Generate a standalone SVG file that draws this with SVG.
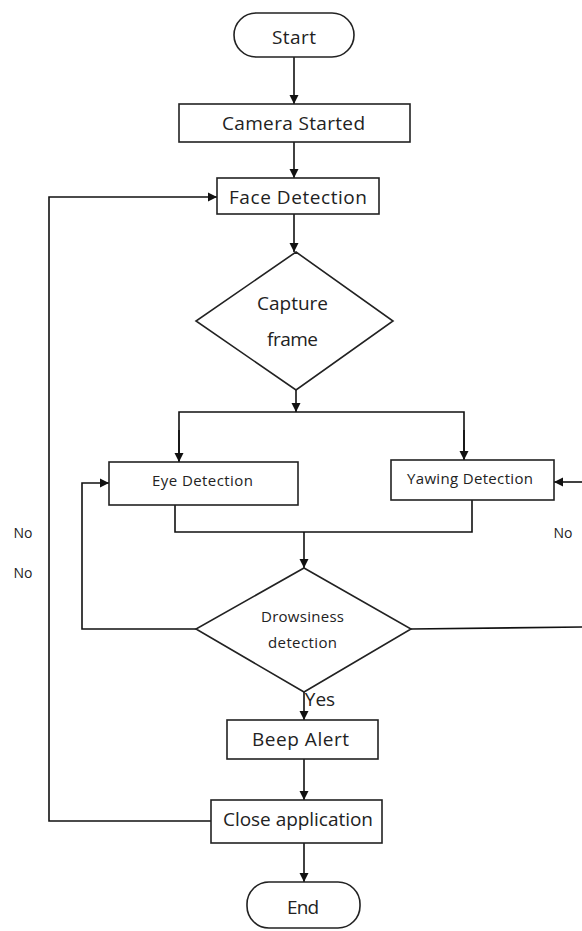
<svg xmlns="http://www.w3.org/2000/svg" width="582" height="931" viewBox="0 0 582 931">
<style>
.box{fill:#fff;stroke:#222;stroke-width:1.6}
.ln{fill:none;stroke:#111;stroke-width:1.6}
.t{font-family:"Open Sans","Liberation Sans",sans-serif;fill:#222;text-anchor:middle}
.big{font-size:19px}
.sm{font-size:15px}
.no{font-size:14px}
</style>
<defs>
<marker id="ah" markerWidth="10" markerHeight="10" refX="9" refY="5" orient="auto" markerUnits="userSpaceOnUse">
<path d="M0,0.5 L9,5 L0,9.5 Z" fill="#111"/>
</marker>
</defs>
<g id="connectors">
<line class="ln" x1="294" y1="57" x2="294" y2="104" marker-end="url(#ah)"/>
<line class="ln" x1="294" y1="142" x2="294" y2="178" marker-end="url(#ah)"/>
<line class="ln" x1="294" y1="214" x2="294" y2="252" marker-end="url(#ah)"/>
<line class="ln" x1="296" y1="390" x2="296" y2="412" marker-end="url(#ah)"/>
<polyline class="ln" points="179,462 179,412 464,412 464,460" />
<line class="ln" x1="179" y1="430" x2="179" y2="462" marker-end="url(#ah)"/>
<line class="ln" x1="464" y1="430" x2="464" y2="460" marker-end="url(#ah)"/>
<polyline class="ln" points="175,505 175,532 472,532 472,500"/>
<line class="ln" x1="304" y1="532" x2="304" y2="568" marker-end="url(#ah)"/>
<polyline class="ln" points="196,629 82,629 82,483 109,483" marker-end="url(#ah)"/>
<polyline class="ln" points="411,629 582,627"/>
<line class="ln" x1="582" y1="482" x2="554" y2="482" marker-end="url(#ah)"/>
<line class="ln" x1="304" y1="692" x2="304" y2="720" marker-end="url(#ah)"/>
<line class="ln" x1="304" y1="759" x2="304" y2="800" marker-end="url(#ah)"/>
<line class="ln" x1="304" y1="843" x2="304" y2="882" marker-end="url(#ah)"/>
<polyline class="ln" points="211,821 49,821 49,197 217,197" marker-end="url(#ah)"/>
<text class="t no" x="23" y="538">No</text>
<text class="t no" x="23" y="578">No</text>
<text class="t no" x="563" y="538">No</text>
<text class="t big" x="320" y="706">Yes</text>
</g>
<g id="start">
<rect class="box" x="234" y="13" width="120" height="44" rx="22"/>
<text class="t big" x="294" y="44" textLength="44">Start</text>
</g>
<g id="camera">
<rect class="box" x="179" y="104" width="231" height="38"/>
<text class="t big" x="293.5" y="130" textLength="143">Camera Started</text>
</g>
<g id="face">
<rect class="box" x="217" y="178" width="162" height="36"/>
<text class="t big" x="298" y="204" textLength="138">Face Detection</text>
</g>
<g id="capture">
<polygon class="box" points="296,252 393,321 296,390 196,321"/>
<text class="t big" x="292.5" y="310" textLength="71">Capture</text>
<text class="t big" x="292.5" y="346" textLength="51">frame</text>
</g>
<g id="eye">
<rect class="box" x="109" y="462" width="189" height="43"/>
<text class="t sm" x="202.5" y="485.5" textLength="101">Eye Detection</text>
</g>
<g id="yawing">
<rect class="box" x="391" y="460" width="163" height="40"/>
<text class="t sm" x="470" y="483.5" textLength="126">Yawing Detection</text>
</g>
<g id="drowsiness">
<polygon class="box" points="304,568 411,629 304,692 196,629"/>
<text class="t sm" x="302.5" y="621.5" textLength="83">Drowsiness</text>
<text class="t sm" x="302.5" y="647.5" textLength="69">detection</text>
</g>
<g id="beep">
<rect class="box" x="227" y="720" width="151" height="39"/>
<text class="t big" x="300.5" y="746" textLength="97">Beep Alert</text>
</g>
<g id="close">
<rect class="box" x="211" y="800" width="171" height="43"/>
<text class="t big" x="298" y="826" textLength="150">Close application</text>
</g>
<g id="end">
<rect class="box" x="247" y="882" width="113" height="46" rx="22"/>
<text class="t big" x="303" y="914" textLength="32">End</text>
</g>
</svg>
